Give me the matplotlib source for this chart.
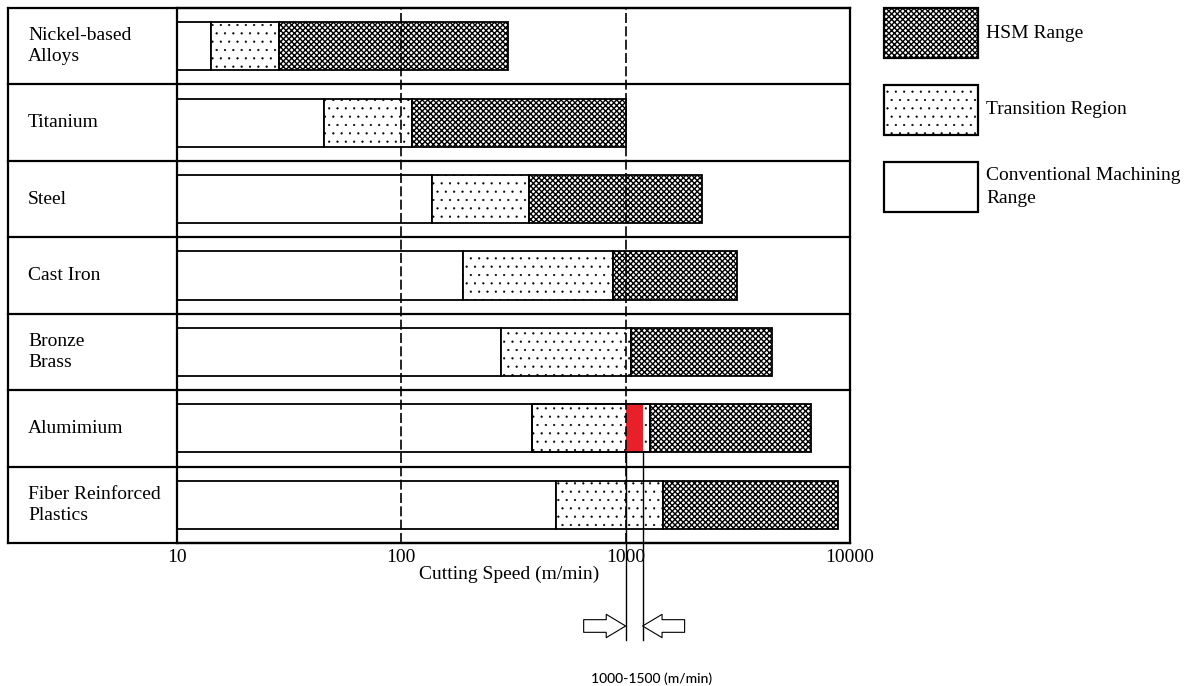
import matplotlib.pyplot as plt
from matplotlib.patches import Rectangle
from matplotlib.ticker import NullLocator
from matplotlib.transforms import blended_transform_factory

# cutting speed ranges per material (m/min)
materials = ['Nickel-based\nAlloys', 'Titanium', 'Steel', 'Cast Iron',
             'Bronze\nBrass', 'Alumimium', 'Fiber Reinforced\nPlastics']
speed_start = 10
conv_end = [14.2, 45, 137, 188, 278, 383, 490]
trans_end = [28.5, 112, 370, 880, 1060, 1290, 1470]
hsm_end = [300, 1000, 2200, 3150, 4500, 6700, 8800]

# highlighted HSM entry band on the aluminium row
highlight_row = 5
highlight_lo, highlight_hi = 1000, 1190
band_label = '1000-1500 (m/min)'

xticks = [10, 100, 1000, 10000]
guide_lines = [100, 1000]
legend_labels = ['HSM Range', 'Transition Region', 'Conventional Machining\nRange']

HSM_STYLE = dict(hatch='xxxxxx', hatch_linewidth=1.0)
TRANS_STYLE = dict(hatch='..', hatch_linewidth=0.35)
BAR_H = 0.63

plt.rcParams['font.family'] = ['Liberation Serif', 'DejaVu Serif']
plt.rcParams['hatch.color'] = 'black'

W, H = 1194, 686
fig = plt.figure(figsize=(W / 100, H / 100), dpi=100)
fig.patch.set_facecolor('white')

# plot area: x from 177 to 850 px, y from 8 to 543 px
ax_l, ax_r, ax_t, ax_b = 177, 850, 8, 543
box_l = 8
ax = fig.add_axes([ax_l / W, 1 - ax_b / H, (ax_r - ax_l) / W, (ax_b - ax_t) / H])
ax.set_xscale('log')
ax.set_xlim(10, 10000)
ax.set_ylim(len(materials), 0)
ax.set_yticks([])
ax.set_xticks(xticks, labels=[str(v) for v in xticks])
ax.xaxis.set_minor_locator(NullLocator())
ax.tick_params(axis='x', length=0, pad=4, labelsize=14)
for sp in ax.spines.values():
    sp.set_linewidth(1.6)

ax.set_xlabel('Cutting Speed (m/min)', fontsize=14)
ax.xaxis.set_label_coords((509 - ax_l) / (ax_r - ax_l), (ax_b - 566) / (ax_b - ax_t))

# label column and row dividers
ext = (ax_l - box_l) / (ax_r - ax_l)
tr = blended_transform_factory(ax.transAxes, ax.transData)
for i in range(len(materials) + 1):
    ax.plot([-ext, 1], [i, i], color='black', lw=1.6, transform=tr, clip_on=False, zorder=6)
ax.plot([-ext, -ext], [0, len(materials)], color='black', lw=1.6, transform=tr, clip_on=False)

for i, name in enumerate(materials):
    ax.text(-ext + 20 / (ax_r - ax_l), i + 0.5, name, transform=tr, ha='left', va='center',
            fontsize=14, linespacing=1.3)

    y = i + 0.5
    ax.barh(y, conv_end[i] - speed_start, left=speed_start, height=BAR_H,
            facecolor='white', edgecolor='black', lw=1.3, zorder=2)
    ax.barh(y, trans_end[i] - conv_end[i], left=conv_end[i], height=BAR_H,
            facecolor='white', edgecolor='black', lw=1.3, zorder=2, **TRANS_STYLE)
    ax.barh(y, hsm_end[i] - trans_end[i], left=trans_end[i], height=BAR_H,
            facecolor='white', edgecolor='black', lw=1.3, zorder=2, **HSM_STYLE)

# red HSM entry band on aluminium
yh = highlight_row + 0.5
ax.barh(yh, highlight_hi - highlight_lo, left=highlight_lo, height=BAR_H,
        facecolor='#e8202a', edgecolor='none', zorder=3)
ax.barh(yh, trans_end[highlight_row] - conv_end[highlight_row], left=conv_end[highlight_row],
        height=BAR_H, fill=False, edgecolor='black', lw=1.3, zorder=4)

for gx in guide_lines:
    ax.axvline(gx, color='black', lw=1.2, ls=(0, (6, 2)), zorder=5)

# marker lines dropping below the axis to the band arrows
trv = blended_transform_factory(ax.transData, ax.transAxes)
y_top = 1 - (yh + BAR_H / 2) / len(materials)
y_bot = (ax_b - 640) / (ax_b - ax_t)
y_arrow = (ax_b - 626) / (ax_b - ax_t)
for gx in (highlight_lo, highlight_hi):
    ax.plot([gx, gx], [y_top, y_bot], color='black', lw=1.0, transform=trv, clip_on=False, zorder=6)

arrow_style = 'simple,head_length=1.0,head_width=1.2,tail_width=0.65'
ax.annotate('', xy=(highlight_lo, y_arrow), xycoords=('data', 'axes fraction'),
            xytext=(-42, 0), textcoords='offset pixels',
            arrowprops=dict(arrowstyle=arrow_style, fc='white', ec='black', lw=0.8,
                            shrinkA=0, shrinkB=0, mutation_scale=14))
ax.annotate('', xy=(highlight_hi, y_arrow), xycoords=('data', 'axes fraction'),
            xytext=(42, 0), textcoords='offset pixels',
            arrowprops=dict(arrowstyle=arrow_style, fc='white', ec='black', lw=0.8,
                            shrinkA=0, shrinkB=0, mutation_scale=14))

fig.text(652 / W, 1 - 679 / H, band_label, ha='center', va='center', fontsize=10,
         family=['Lato', 'DejaVu Sans'], weight='medium')

# legend boxes
legend_styles = [HSM_STYLE, TRANS_STYLE, {}]
legend_tops = [8, 85, 162]
for lab, style, top in zip(legend_labels, legend_styles, legend_tops):
    r = Rectangle((884 / W, 1 - (top + 50) / H), 94 / W, 50 / H, transform=fig.transFigure,
                  facecolor='white', edgecolor='black', lw=1.6, **style)
    fig.patches.append(r)
    fig.text(986 / W, 1 - (top + 25) / H, lab, ha='left', va='center', fontsize=14,
             linespacing=1.45)

fig.savefig('out.png', dpi=100)
